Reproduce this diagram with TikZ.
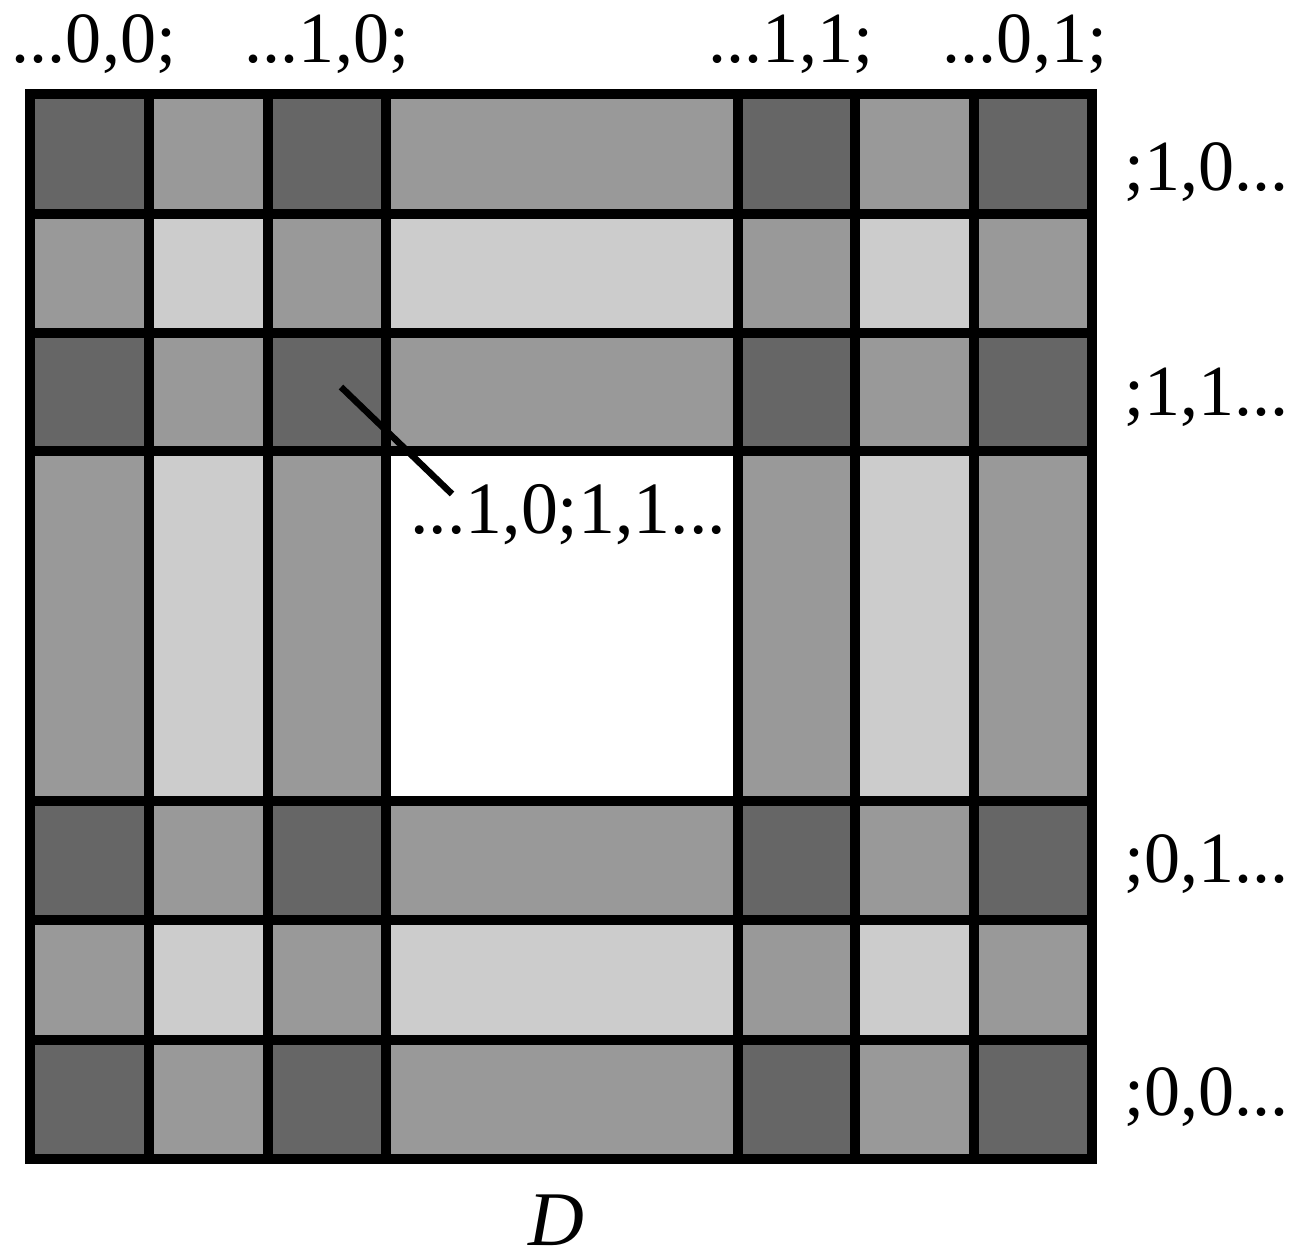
\documentclass[tikz,border=0pt]{standalone}
\usepackage{fontspec}
\setmainfont{Liberation Serif}
\definecolor{cAA}{HTML}{666666}
\definecolor{cAB}{HTML}{999999}
\definecolor{cBA}{HTML}{999999}
\definecolor{cAC}{HTML}{999999}
\definecolor{cCA}{HTML}{999999}
\definecolor{cBB}{HTML}{CCCCCC}
\definecolor{cBC}{HTML}{CCCCCC}
\definecolor{cCB}{HTML}{CCCCCC}
\definecolor{cCC}{HTML}{FFFFFF}
\begin{document}
\begin{tikzpicture}[x=0.02cm,y=-0.02cm,
  gridline/.style={line width=0.2cm,black},
  lbl/.style={inner sep=0pt,font=\fontsize{41}{49}\selectfont},
  leader/.style={line width=0.13cm,black}]
\useasboundingbox (0,0) rectangle (1296,1259);
% cells
\foreach \ya/\yb/\t in {94/214/A,214/333/B,333/451/A,451/801/C,801/920/A,920/1040/B,1040/1159/A}{
  \foreach \xa/\xb/\u in {30/149/A,149/268/B,268/386/A,386/738/C,738/855/A,855/974/B,974/1092/A}{
    \fill[c\t\u] (\xa,\ya) rectangle (\xb,\yb);
  }
}
% grid lines
\foreach \x in {149,268,386,738,855,974}{
  \draw[gridline] (\x,94) -- (\x,1159);
}
\foreach \y in {214,333,451,801,920,1040}{
  \draw[gridline] (30,\y) -- (1092,\y);
}
\draw[gridline,line join=miter] (30,94) rectangle (1092,1159);
% top labels
\node[lbl,anchor=base] (t1) at (94,62) {...0,0;};
\node[lbl,anchor=base] (t2) at (327,62) {...1,0;};
\node[lbl,anchor=base] (t3) at (791,62) {...1,1;};
\node[lbl,anchor=base] (t4) at (1025,62) {...0,1;};
% right labels
\node[lbl,anchor=base west] (r1) at (1124,190) {;1,0...};
\node[lbl,anchor=base west] (r2) at (1124,415) {;1,1...};
\node[lbl,anchor=base west] (r3) at (1124,882) {;0,1...};
\node[lbl,anchor=base west] (r4) at (1124,1115) {;0,0...};
% middle label with leader
\node[lbl,anchor=base west,font=\fontsize{42}{49}\selectfont] (m) at (410,533) {...1,0;1,1...};
\coordinate (ls) at (341,387);
\coordinate (le) at (452,494);
\draw[leader] (ls) -- (le);
% D
\node[inner sep=0pt,anchor=base,font=\fontsize{44}{50}\selectfont] (d) at (556,1245) {\textit{D}};
\end{tikzpicture}
\end{document}
